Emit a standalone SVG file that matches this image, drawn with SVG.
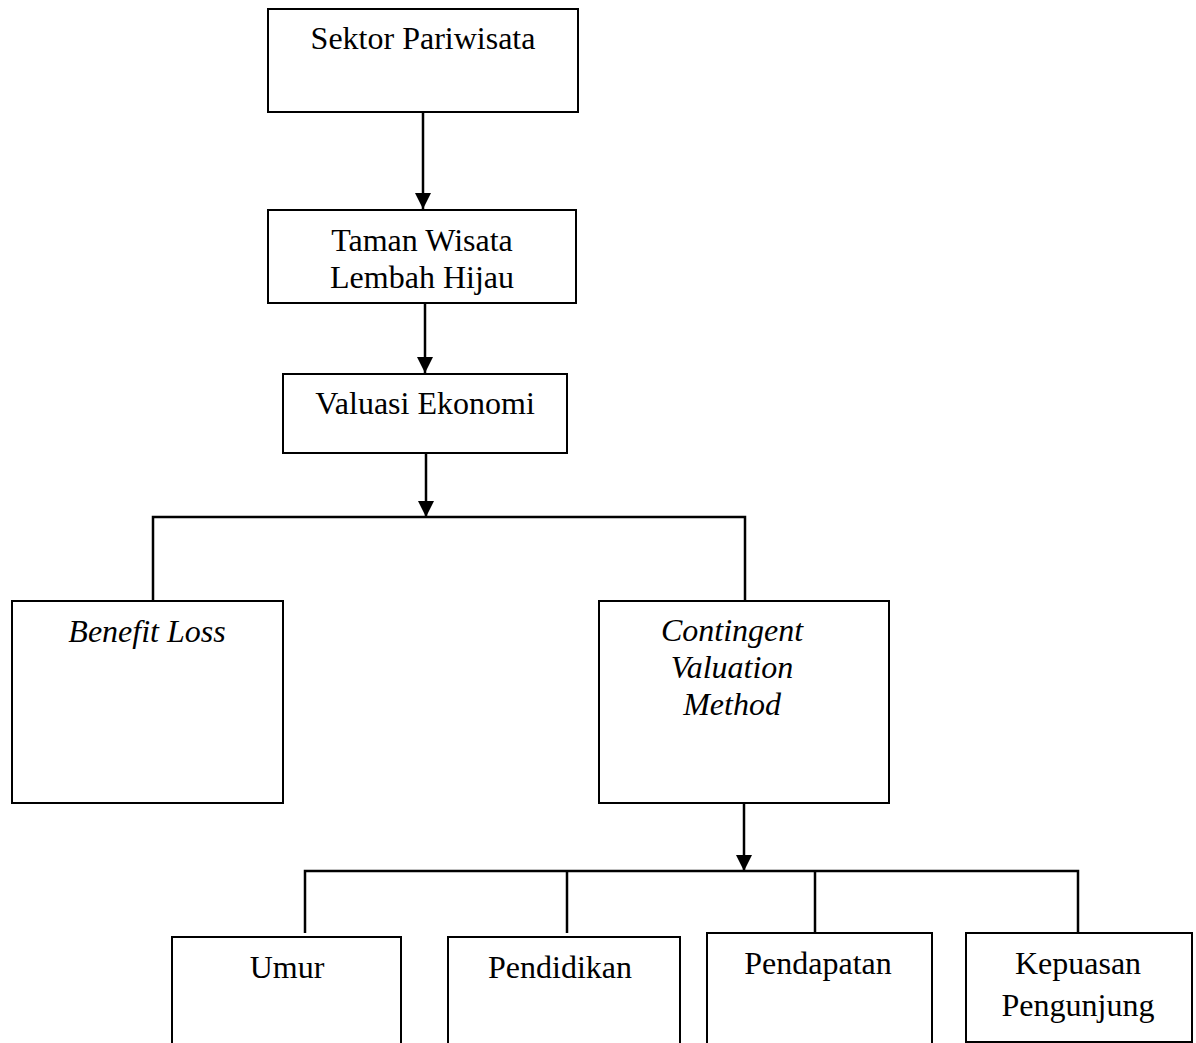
<svg xmlns="http://www.w3.org/2000/svg" width="1196" height="1043" viewBox="0 0 1196 1043">
<style>
.box{fill:#fff;stroke:#000;stroke-width:2}
.t{font-family:"Liberation Serif","Times New Roman",serif;font-size:32px;fill:#000;text-anchor:middle}
.i{font-style:italic}
.c{fill:none;stroke:#000;stroke-width:2.5}
</style>
<defs>
<marker id="ah" markerWidth="16" markerHeight="16" refX="16" refY="8" orient="auto" markerUnits="userSpaceOnUse" viewBox="0 0 16 16">
<path d="M0,0 L16,8 L0,16 Z" fill="#000"/>
</marker>
</defs>
<rect width="1196" height="1043" fill="#fff"/>
<g id="connectors">
<path class="c" d="M423,112 L423,209" marker-end="url(#ah)"/>
<path class="c" d="M425,303 L425,373" marker-end="url(#ah)"/>
<path class="c" d="M426,453 L426,517" marker-end="url(#ah)"/>
<path class="c" d="M153,600 L153,517 L745,517 L745,600"/>
<path class="c" d="M744,803 L744,871" marker-end="url(#ah)"/>
<path class="c" d="M305,933 L305,871 L1078,871 L1078,933"/>
<path class="c" d="M567,871 L567,933"/>
<path class="c" d="M815,871 L815,933"/>
</g>
<g id="sektor">
<rect class="box" x="268" y="9" width="310" height="103"/>
<text class="t" x="423" y="49">Sektor Pariwisata</text>
</g>
<g id="taman">
<rect class="box" x="268" y="210" width="308" height="93"/>
<text class="t" x="422" y="251">Taman Wisata</text>
<text class="t" x="422" y="288">Lembah Hijau</text>
</g>
<g id="valuasi">
<rect class="box" x="283" y="374" width="284" height="79"/>
<text class="t" x="425" y="414">Valuasi Ekonomi</text>
</g>
<g id="benefit">
<rect class="box" x="12" y="601" width="271" height="202"/>
<text class="t i" x="147" y="642">Benefit Loss</text>
</g>
<g id="cvm">
<rect class="box" x="599" y="601" width="290" height="202"/>
<text class="t i" x="732" y="641">Contingent</text>
<text class="t i" x="732" y="678">Valuation</text>
<text class="t i" x="732" y="715">Method</text>
</g>
<g id="umur">
<rect class="box" x="172" y="937" width="229" height="120"/>
<text class="t" x="287" y="978">Umur</text>
</g>
<g id="pendidikan">
<rect class="box" x="448" y="937" width="232" height="120"/>
<text class="t" x="560" y="978">Pendidikan</text>
</g>
<g id="pendapatan">
<rect class="box" x="707" y="933" width="225" height="120"/>
<text class="t" x="818" y="974">Pendapatan</text>
</g>
<g id="kepuasan">
<rect class="box" x="966" y="933" width="226" height="109"/>
<text class="t" x="1078" y="974">Kepuasan</text>
<text class="t" x="1078" y="1016">Pengunjung</text>
</g>
</svg>
